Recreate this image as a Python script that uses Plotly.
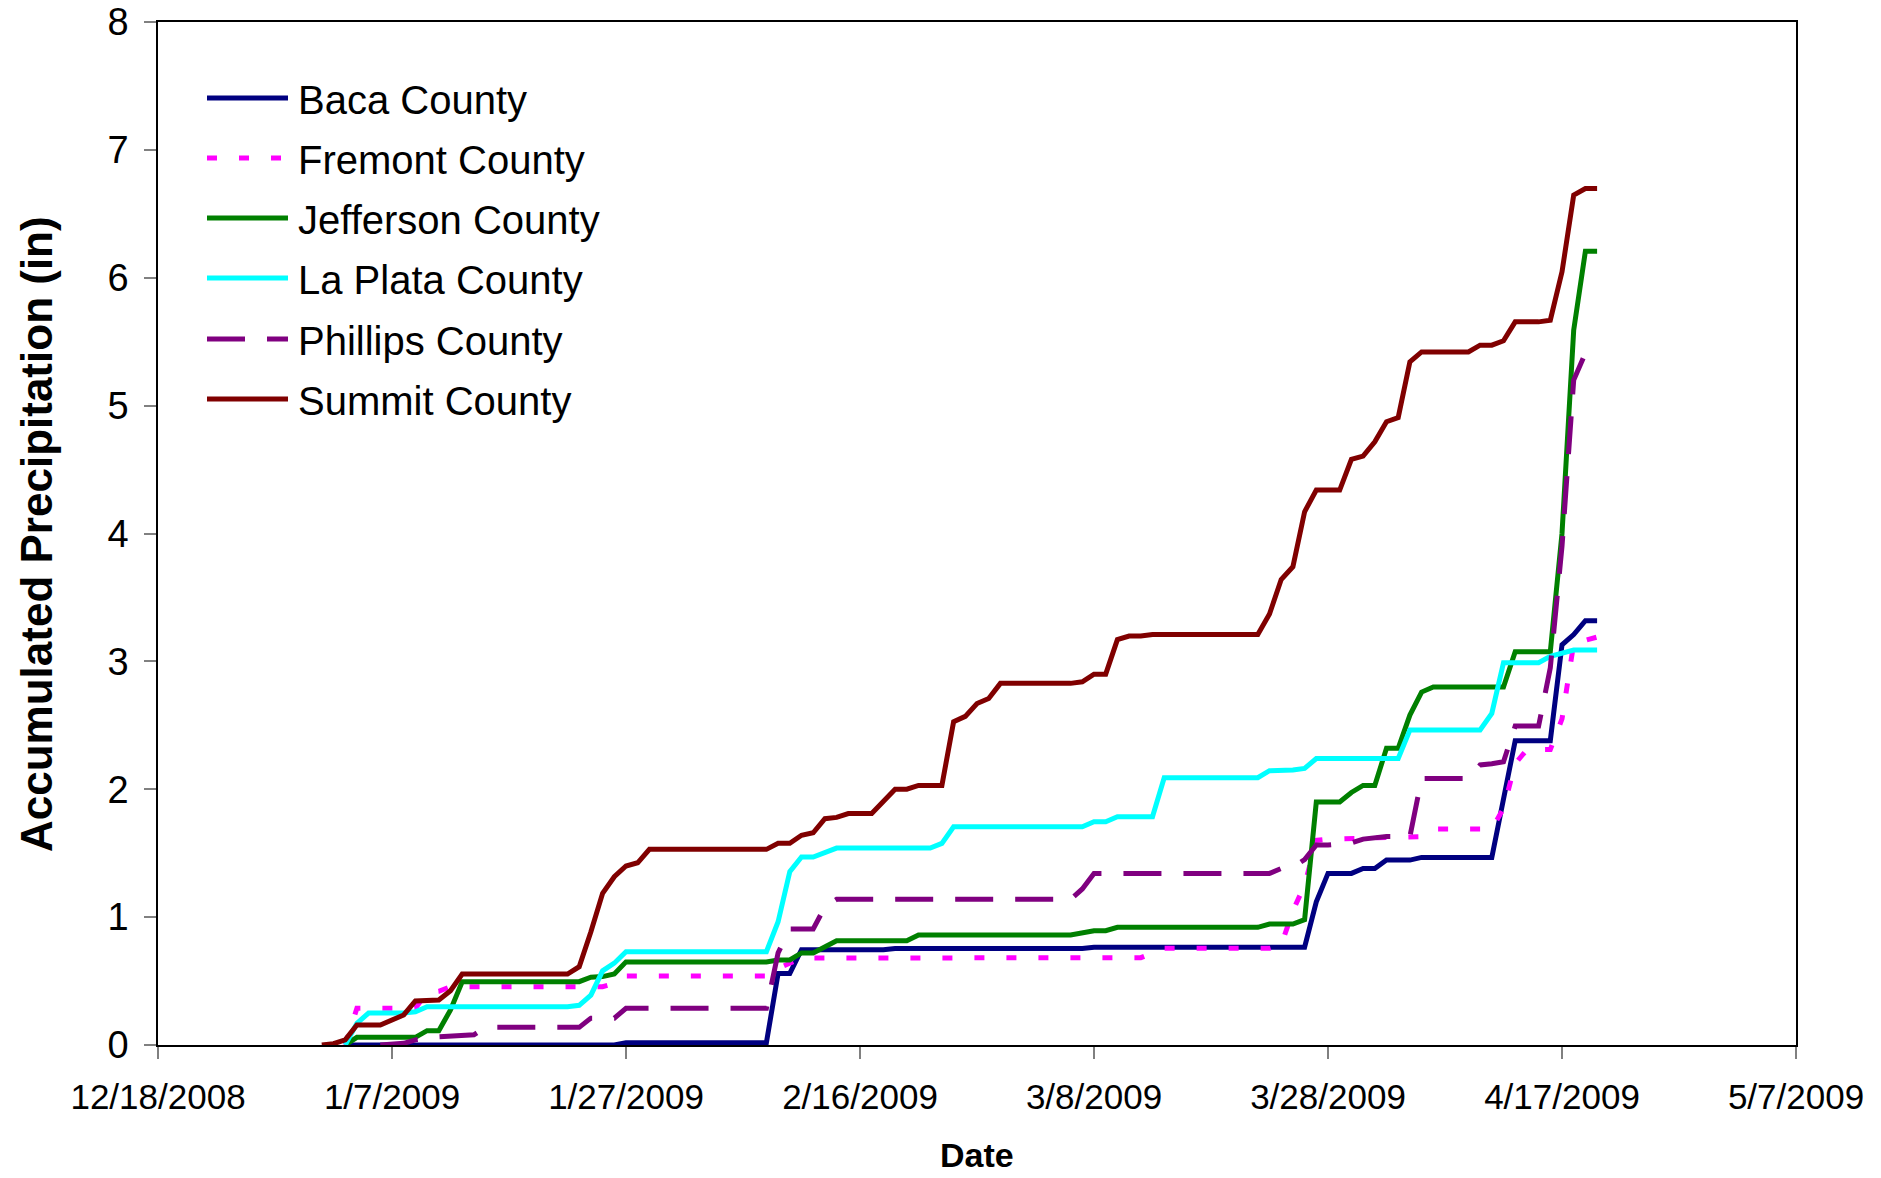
import plotly.graph_objects as go

# accumulated precipitation (in), vertices
baca_dates = ["2009-01-03", "2009-01-26", "2009-01-27", "2009-02-08", "2009-02-09", "2009-02-10",
              "2009-02-11", "2009-02-18", "2009-02-19", "2009-03-07", "2009-03-08", "2009-03-26",
              "2009-03-27", "2009-03-28", "2009-03-30", "2009-03-31", "2009-04-01", "2009-04-02",
              "2009-04-04", "2009-04-05", "2009-04-11", "2009-04-12", "2009-04-13", "2009-04-16",
              "2009-04-17", "2009-04-18", "2009-04-19", "2009-04-20"]
baca_vals = [0, 0, 0.018, 0.018, 0.56, 0.56, 0.745, 0.745, 0.755, 0.755, 0.765, 0.765,
             1.12, 1.342, 1.342, 1.38, 1.38, 1.446, 1.446, 1.467, 1.467, 1.9, 2.38, 2.38,
             3.13, 3.21, 3.318, 3.318]

fremont_dates = ["2009-01-03", "2009-01-04", "2009-01-09", "2009-01-10", "2009-01-11", "2009-01-12",
                 "2009-01-25", "2009-01-26", "2009-01-27", "2009-02-08", "2009-02-09", "2009-02-10",
                 "2009-02-11", "2009-03-12", "2009-03-13", "2009-03-14", "2009-03-23", "2009-03-24",
                 "2009-03-25", "2009-03-26", "2009-03-27", "2009-03-28", "2009-04-05", "2009-04-06",
                 "2009-04-11", "2009-04-12", "2009-04-13", "2009-04-14", "2009-04-16", "2009-04-17",
                 "2009-04-18", "2009-04-19", "2009-04-20"]
fremont_vals = [0, 0.287, 0.287, 0.41, 0.42, 0.456, 0.456, 0.48, 0.54, 0.54, 0.60, 0.64,
                0.68, 0.683, 0.72, 0.756, 0.756, 0.78, 1.05, 1.25, 1.60, 1.61, 1.63, 1.69,
                1.69, 1.85, 2.2, 2.31, 2.31, 2.55, 3.14, 3.17, 3.19]

jefferson_dates = ["2009-01-03", "2009-01-04", "2009-01-09", "2009-01-10", "2009-01-11", "2009-01-12",
                   "2009-01-13", "2009-01-23", "2009-01-24", "2009-01-25", "2009-01-26", "2009-01-27",
                   "2009-02-08", "2009-02-09", "2009-02-10", "2009-02-11", "2009-02-12", "2009-02-13",
                   "2009-02-14", "2009-02-20", "2009-02-21", "2009-03-06", "2009-03-07", "2009-03-08",
                   "2009-03-09", "2009-03-10", "2009-03-22", "2009-03-23", "2009-03-25", "2009-03-26",
                   "2009-03-27", "2009-03-29", "2009-03-30", "2009-03-31", "2009-04-01", "2009-04-02",
                   "2009-04-03", "2009-04-04", "2009-04-05", "2009-04-06", "2009-04-12", "2009-04-13",
                   "2009-04-16", "2009-04-17", "2009-04-18", "2009-04-19", "2009-04-20"]
jefferson_vals = [0, 0.06, 0.06, 0.112, 0.112, 0.274, 0.495, 0.495, 0.53, 0.535, 0.555, 0.65,
                  0.65, 0.665, 0.665, 0.72, 0.72, 0.77, 0.815, 0.815, 0.86, 0.86, 0.88, 0.894,
                  0.894, 0.92, 0.92, 0.946, 0.946, 0.98, 1.90, 1.90, 1.975, 2.03, 2.03, 2.32,
                  2.32, 2.58, 2.76, 2.80, 2.80, 3.075, 3.075, 4.0, 5.59, 6.208, 6.208]

laplata_dates = ["2009-01-03", "2009-01-04", "2009-01-05", "2009-01-08", "2009-01-09", "2009-01-10",
                 "2009-01-22", "2009-01-23", "2009-01-24", "2009-01-25", "2009-01-26", "2009-01-27",
                 "2009-02-08", "2009-02-09", "2009-02-10", "2009-02-11", "2009-02-12", "2009-02-13",
                 "2009-02-14", "2009-02-22", "2009-02-23", "2009-02-24", "2009-03-07", "2009-03-08",
                 "2009-03-09", "2009-03-10", "2009-03-13", "2009-03-14", "2009-03-22", "2009-03-23",
                 "2009-03-25", "2009-03-26", "2009-03-27", "2009-04-03", "2009-04-04", "2009-04-10",
                 "2009-04-11", "2009-04-12", "2009-04-15", "2009-04-16", "2009-04-17", "2009-04-18",
                 "2009-04-20"]
laplata_vals = [0, 0.17, 0.25, 0.25, 0.26, 0.30, 0.30, 0.31, 0.39, 0.58, 0.64, 0.73,
                0.73, 0.964, 1.355, 1.47, 1.47, 1.51, 1.54, 1.54, 1.577, 1.707, 1.707, 1.746,
                1.746, 1.785, 1.785, 2.09, 2.09, 2.145, 2.15, 2.163, 2.24, 2.24, 2.463, 2.463,
                2.593, 2.99, 2.99, 3.04, 3.06, 3.088, 3.088]

phillips_dates = ["2009-01-06", "2009-01-08", "2009-01-09", "2009-01-11", "2009-01-14", "2009-01-15",
                  "2009-01-23", "2009-01-24", "2009-01-26", "2009-01-27", "2009-02-08", "2009-02-09",
                  "2009-02-10", "2009-02-12", "2009-02-13", "2009-02-14", "2009-03-06", "2009-03-07",
                  "2009-03-08", "2009-03-23", "2009-03-24", "2009-03-25", "2009-03-26", "2009-03-27",
                  "2009-03-28", "2009-03-29", "2009-03-30", "2009-03-31", "2009-04-01", "2009-04-02",
                  "2009-04-04", "2009-04-05", "2009-04-09", "2009-04-10", "2009-04-11", "2009-04-12",
                  "2009-04-13", "2009-04-15", "2009-04-16", "2009-04-17", "2009-04-18", "2009-04-19",
                  "2009-04-20"]
phillips_vals = [0, 0.013, 0.04, 0.065, 0.08, 0.138, 0.138, 0.21, 0.21, 0.287, 0.287, 0.72,
                 0.907, 0.907, 1.08, 1.139, 1.139, 1.22, 1.342, 1.342, 1.38, 1.39, 1.45, 1.564,
                 1.564, 1.575, 1.58, 1.61, 1.62, 1.63, 1.63, 2.085, 2.085, 2.19, 2.2, 2.215,
                 2.494, 2.494, 2.95, 3.9, 5.2, 5.41, 5.41]

summit_dates = ["2009-01-01", "2009-01-02", "2009-01-03", "2009-01-04", "2009-01-06", "2009-01-07",
                "2009-01-08", "2009-01-09", "2009-01-11", "2009-01-12", "2009-01-13", "2009-01-22",
                "2009-01-23", "2009-01-24", "2009-01-25", "2009-01-26", "2009-01-27", "2009-01-28",
                "2009-01-29", "2009-02-08", "2009-02-09", "2009-02-10", "2009-02-11", "2009-02-12",
                "2009-02-13", "2009-02-14", "2009-02-15", "2009-02-17", "2009-02-18", "2009-02-19",
                "2009-02-20", "2009-02-21", "2009-02-23", "2009-02-24", "2009-02-25", "2009-02-26",
                "2009-02-27", "2009-02-28", "2009-03-06", "2009-03-07", "2009-03-08", "2009-03-09",
                "2009-03-10", "2009-03-11", "2009-03-12", "2009-03-13", "2009-03-22", "2009-03-23",
                "2009-03-24", "2009-03-25", "2009-03-26", "2009-03-27", "2009-03-29", "2009-03-30",
                "2009-03-31", "2009-04-01", "2009-04-02", "2009-04-03", "2009-04-04", "2009-04-05",
                "2009-04-09", "2009-04-10", "2009-04-11", "2009-04-12", "2009-04-13", "2009-04-15",
                "2009-04-16", "2009-04-17", "2009-04-18", "2009-04-19", "2009-04-20"]
summit_vals = [0, 0.01, 0.04, 0.156, 0.156, 0.20, 0.235, 0.344, 0.352, 0.425, 0.555, 0.555,
               0.612, 0.886, 1.186, 1.316, 1.40, 1.425, 1.53, 1.53, 1.577, 1.577, 1.64, 1.66,
               1.77, 1.78, 1.81, 1.81, 1.90, 2.00, 2.00, 2.03, 2.03, 2.528, 2.57, 2.67,
               2.71, 2.828, 2.828, 2.84, 2.90, 2.90, 3.17, 3.198, 3.198, 3.21, 3.21, 3.37,
               3.64, 3.74, 4.17, 4.34, 4.34, 4.58, 4.605, 4.717, 4.874, 4.907, 5.343, 5.42,
               5.42, 5.473, 5.473, 5.507, 5.655, 5.655, 5.668, 6.046, 6.646, 6.698, 6.698]

series = [
    ("Baca County", baca_dates, baca_vals, "#000080", "solid"),
    ("Fremont County", fremont_dates, fremont_vals, "#FF00FF", "10px,22px"),
    ("Jefferson County", jefferson_dates, jefferson_vals, "#008000", "solid"),
    ("La Plata County", laplata_dates, laplata_vals, "#00FFFF", "solid"),
    ("Phillips County", phillips_dates, phillips_vals, "#800080", "38px,22px"),
    ("Summit County", summit_dates, summit_vals, "#800000", "solid"),
]

# page body has an 8px margin, so the figure is made 16px smaller and
# all pixel positions below are given in window coordinates
OFF = 8
W, H = 1881 - 2 * OFF, 1178 - 2 * OFF
PL, PR, PT, PB = 158, 1796, 22, 1045   # plot area in window pixels
L, R, T, B = PL - OFF, W - (PR - OFF), PT - OFF, H - (PB - OFF)
pw, ph = W - L - R, H - T - B

def px_x(x):
    return (x - PL) / pw

def px_y(y):
    return (PB - y) / ph

LW = 5

fig = go.Figure()
for name, d, v, col, dash in series:
    fig.add_trace(go.Scatter(x=d, y=v, mode="lines", name=name,
                             line=dict(color=col, width=LW, dash=dash),
                             showlegend=False))

# hand-drawn legend (long line samples like the original)
shapes = []
annotations = []
row_y = [98, 158, 218, 278, 339, 399]
for (name, d, v, col, dash), yy in zip(series, row_y):
    shapes.append(dict(type="line", xref="paper", yref="paper",
                       x0=px_x(207), x1=px_x(288), y0=px_y(yy), y1=px_y(yy),
                       line=dict(color=col, width=LW, dash=dash)))
    annotations.append(dict(text=name, xref="paper", yref="paper", x=px_x(296), y=px_y(yy + 2),
                            xanchor="left", yanchor="middle", showarrow=False,
                            font=dict(family="Liberation Sans, Arial", size=40, color="black")))

annotations.append(dict(text="<b>Date</b>", xref="paper", yref="paper", x=0.5, y=px_y(1155),
                        xanchor="center", yanchor="middle", showarrow=False,
                        font=dict(family="Liberation Sans, Arial", size=34, color="black")))
annotations.append(dict(text="<b>Accumulated Precipitation (in)</b>", xref="paper", yref="paper",
                        x=px_x(36), y=px_y(534), textangle=-90, xanchor="center", yanchor="middle",
                        showarrow=False,
                        font=dict(family="Liberation Sans, Arial", size=44, color="black")))

fig.update_layout(
    width=W, height=H,
    margin=dict(l=L, r=R, t=T, b=B, autoexpand=False),
    paper_bgcolor="white", plot_bgcolor="white",
    shapes=shapes, annotations=annotations,
    xaxis=dict(type="date", range=["2008-12-18", "2009-05-07"],
               tick0="2008-12-18", dtick=20 * 86400000, tickformat="%-m/%-d/%Y",
               ticks="outside", ticklen=12, tickcolor="#808080", tickwidth=1.5,
               showline=True, linecolor="black", linewidth=1.5, mirror=True,
               showgrid=False, zeroline=False, automargin=False, ticklabelstandoff=8,
               ticklabeloverflow="allow",
               tickfont=dict(family="Liberation Sans, Arial", size=35, color="black")),
    yaxis=dict(range=[0, 8], dtick=1, tick0=0,
               ticks="outside", ticklen=12, tickcolor="#808080", tickwidth=1.5,
               showline=True, linecolor="black", linewidth=1.5, mirror=True,
               showgrid=False, zeroline=False, automargin=False, ticklabelstandoff=8,
               ticklabeloverflow="allow",
               tickfont=dict(family="Liberation Sans, Arial", size=38, color="black")),
)

fig.write_html("out.html")
